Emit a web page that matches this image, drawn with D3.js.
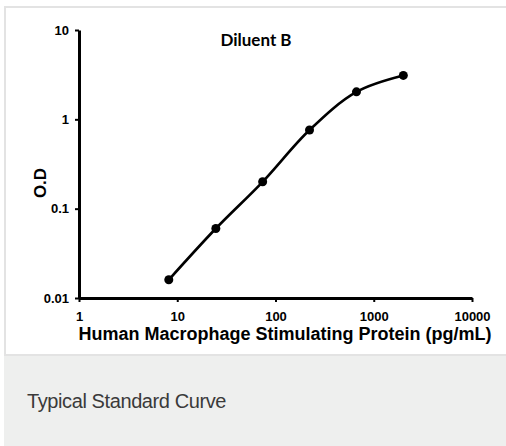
<!DOCTYPE html>
<html>
<head>
<meta charset="utf-8">
<script src="https://cdn.jsdelivr.net/npm/d3@7"></script>
<style>
  body { margin: 0; background: #fff; }
  svg { display: block; }
</style>
</head>
<body>
<div id="chart"></div>
<script>
// Chart data
var concentration = [8.2, 24.7, 74, 222, 667, 2000];
var od = [0.016, 0.06, 0.2, 0.76, 2.03, 3.1];
var xTicks = [1, 10, 100, 1000, 10000];
var yTicks = [0.01, 0.1, 1, 10];

var svgWidth = 506;
var svgHeight = 446;

var svg = d3.select("#chart")
  .append("svg")
  .attr("width", svgWidth)
  .attr("height", svgHeight);

// panel frame and footer
svg.append("rect")
  .attr("x", 5).attr("y", 7)
  .attr("width", 510).attr("height", 348)
  .attr("fill", "#fff")
  .attr("stroke", "#e3e3e3")
  .attr("stroke-width", 2);

svg.append("rect")
  .attr("x", 4).attr("y", 356)
  .attr("width", 510).attr("height", 90)
  .attr("fill", "#eeefee");

svg.append("text")
  .attr("x", 27).attr("y", 408)
  .attr("font-family", "Liberation Sans, Arial, sans-serif")
  .attr("font-size", 20)
  .attr("letter-spacing", -0.4)
  .attr("fill", "#3a3a3a")
  .text("Typical Standard Curve");

// plot area
var plotLeft = 79, plotRight = 472, plotTop = 30, plotBottom = 298;

var x = d3.scaleLog().domain([1, 10000]).range([plotLeft, plotRight]);
var y = d3.scaleLog().domain([0.01, 10]).range([plotBottom, plotTop]);

var xAxis = svg.append("g")
  .attr("transform", "translate(0," + plotBottom + ")")
  .call(d3.axisBottom(x).tickValues(xTicks).tickFormat(d3.format("d")).tickSize(4).tickSizeOuter(0));

var yAxis = svg.append("g")
  .attr("transform", "translate(" + plotLeft + ",0)")
  .call(d3.axisLeft(y).tickValues(yTicks).tickFormat(d => String(d)).tickSize(4).tickSizeOuter(0));

[xAxis, yAxis].forEach(function(ax) {
  ax.select(".domain").attr("stroke", "#000").attr("stroke-width", 3);
  ax.selectAll(".tick line").attr("stroke", "#000").attr("stroke-width", 2);
  ax.selectAll(".tick text")
    .attr("font-family", "Liberation Sans, Arial, sans-serif")
    .attr("font-size", 13)
    .attr("font-weight", "bold")
    .attr("fill", "#000");
});
xAxis.selectAll(".tick text").attr("dy", "1.2em");
yAxis.selectAll(".tick text").attr("x", -10);

// titles
svg.append("text")
  .attr("x", 285).attr("y", 340)
  .attr("text-anchor", "middle")
  .attr("font-family", "Liberation Sans, Arial, sans-serif")
  .attr("font-size", 18)
  .attr("font-weight", "bold")
  .text("Human Macrophage Stimulating Protein (pg/mL)");

svg.append("text")
  .attr("transform", "translate(46,183) rotate(-90)")
  .attr("text-anchor", "middle")
  .attr("font-family", "Liberation Sans, Arial, sans-serif")
  .attr("font-size", 17)
  .attr("font-weight", "bold")
  .text("O.D");

svg.append("text")
  .attr("x", 256).attr("y", 46)
  .attr("text-anchor", "middle")
  .attr("font-family", "Lato, Open Sans, sans-serif")
  .attr("font-size", 17)
  .attr("font-weight", "bold")
  .text("Diluent B");

// curve
var data = concentration.map((c, i) => ({ c: c, v: od[i] }));

var line = d3.line()
  .x(d => x(d.c))
  .y(d => y(d.v))
  .curve(d3.curveCatmullRom.alpha(0.5));

svg.append("path")
  .datum(data)
  .attr("d", line)
  .attr("fill", "none")
  .attr("stroke", "#000")
  .attr("stroke-width", 2.6);

svg.selectAll("circle")
  .data(data)
  .enter()
  .append("circle")
  .attr("cx", d => x(d.c))
  .attr("cy", d => y(d.v))
  .attr("r", 4.5)
  .attr("fill", "#000");
</script>
</body>
</html>
